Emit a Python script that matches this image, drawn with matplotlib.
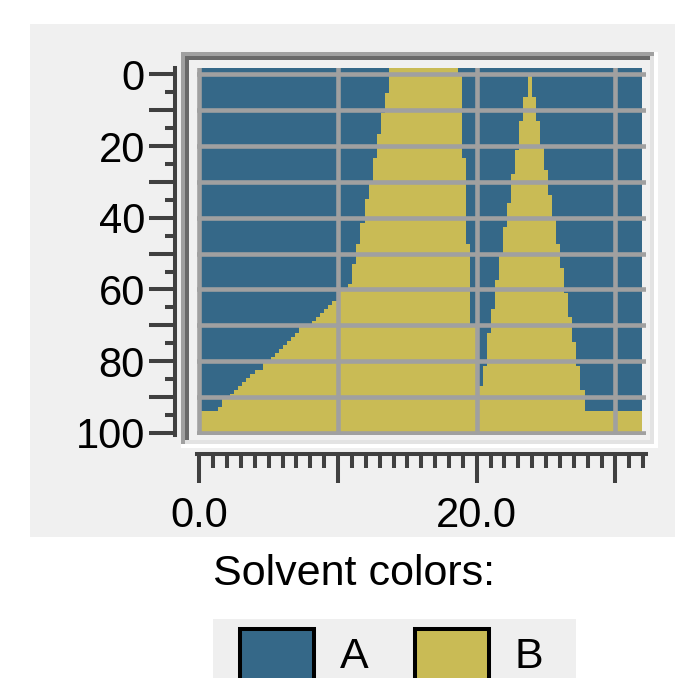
import matplotlib.pyplot as plt
from matplotlib.patches import Rectangle
from matplotlib.ticker import MultipleLocator

# solvent B, first (wide) band: each row starts at y and runs to the next y
b1_y = [-1.76, 0, 5.2, 10.8, 16.6, 23.3, 30.3, 34.8, 41.5, 47.3, 52.9, 58.4, 60.0,
        63.3, 64.4, 65.5, 66.6, 67.7, 68.8, 70.0, 72.2, 73.3, 74.4, 75.5, 76.7,
        77.8, 78.9, 80.0, 82.4, 83.5, 84.7, 85.8, 86.9, 88.0, 89.1, 90.0, 92.8, 94.0, 100]
b1_left = [13.68, 13.68, 13.39, 13.10, 12.81, 12.52, 12.24, 11.95, 11.59, 11.30, 11.01, 10.72, 10.0,
           9.57, 9.28, 8.99, 8.70, 8.41, 8.13, 7.19, 6.90, 6.61, 6.32, 6.03, 5.75,
           5.46, 5.17, 4.59, 4.01, 3.65, 3.37, 3.08, 2.79, 2.50, 2.21, 1.63, 1.35, 0.0, 0.0]
b1_right = [18.63, 18.92, 18.92, 18.92, 18.92, 19.21, 19.21, 19.21, 19.21, 19.50, 19.50, 19.50, 19.50,
            19.50, 19.50, 19.50, 19.50, 19.50, 19.50, 20.0, 20.0, 20.0, 20.0, 20.0, 20.0,
            20.0, 20.0, 20.0, 20.0, 20.0, 20.0, 20.0, 20.0, 20.0, 20.0, 20.0, 20.0, 20.0, 20.0]

# solvent B, second (narrow) band
b2_y = [0, 6.3, 13.0, 20.0, 21.1, 26.7, 27.8, 33.7, 35.9, 40.4, 42.6, 47.3, 50.7,
        54.0, 57.4, 61.0, 65.5, 67.7, 72.2, 74.7, 81.4, 86.9, 88.1, 94.0, 100]
b2_left = [23.70, 23.34, 23.05, 23.05, 22.76, 22.76, 22.48, 22.48, 22.19, 22.19, 21.90, 21.90, 21.61,
           21.61, 21.32, 21.32, 21.03, 21.03, 20.75, 20.75, 20.46, 20.0, 20.0, 20.0, 20.0]
b2_right = [23.99, 24.28, 24.57, 24.86, 24.86, 25.14, 25.14, 25.43, 25.43, 25.72, 25.72, 26.01, 26.01,
            26.30, 26.30, 26.59, 26.59, 26.88, 26.88, 27.16, 27.45, 27.45, 27.81, 31.9, 31.9]

x_end = 31.9
y_end = 100

x_ticks = [0, 10, 20, 30]
x_labels = ['0.0', '', '20.0', '']
y_ticks = [0, 10, 20, 30, 40, 50, 60, 70, 80, 90, 100]
y_labels = ['0', '', '20', '', '40', '', '60', '', '80', '', '100']

solvents = ['A', 'B']
colors = ['#356888', '#c9bb55']

W, H = 675, 678
fig = plt.figure(figsize=(W / 100, H / 100), dpi=100, facecolor='white')
font = 'Liberation Sans'


def box(x0, y0, x1, y1, fc, ec='none', lw=0, z=-5):
    # rectangle given in pixels from the top-left corner
    fig.add_artist(Rectangle((x0 / W, 1 - y1 / H), (x1 - x0) / W, (y1 - y0) / H,
                             transform=fig.transFigure, fc=fc, ec=ec, lw=lw, zorder=z))


# grey panel and sunken frame
box(30, 24, 675, 537, '#f0f0f0', z=-10)
box(181, 52, 658, 448, 'white', z=-9)
box(181, 52, 654, 444, '#a0a0a0', z=-8)
box(185, 56, 654, 444, '#e3e3e3', z=-7)
box(185, 56, 650, 440, '#696969', z=-6)
box(189, 60, 650, 440, '#f0f0f0', z=-5)

ax = fig.add_axes([197 / W, 1 - 435 / H, (646 - 197) / W, (435 - 68) / H])
ax.set_facecolor('#f0f0f0')
ax.fill_betweenx([b1_y[0], y_end], 0, x_end, color=colors[0], lw=0, zorder=1)
ax.fill_betweenx(b1_y, b1_left, b1_right, step='post', color=colors[1], lw=0, zorder=1.2)
ax.fill_betweenx(b2_y, b2_left, b2_right, step='post', color=colors[1], lw=0, zorder=1.2)

ax.set_xlim(-0.166, 32.2)
ax.set_ylim(100.6, -1.76)
ax.set_axisbelow(False)
ax.grid(True, which='major', color='#a0a0a0', lw=3.3)

ax.set_xticks(x_ticks, x_labels)
ax.set_yticks(y_ticks, y_labels)
ax.xaxis.set_minor_locator(MultipleLocator(1))
ax.yaxis.set_minor_locator(MultipleLocator(5))

for s in ['top', 'right']:
    ax.spines[s].set_visible(False)
ax.spines['left'].set_position(('outward', 15.8))
ax.spines['bottom'].set_position(('outward', 13.7))
for s in ['left', 'bottom']:
    ax.spines[s].set_color('#404040')
    ax.spines[s].set_linewidth(2.9)

ax.tick_params(axis='both', which='both', color='#404040', width=2.9, direction='out')
ax.tick_params(axis='y', which='major', length=18.7, pad=3, labelsize=30)
ax.tick_params(axis='y', which='minor', length=7.2)
ax.tick_params(axis='x', which='major', length=20.9, pad=9, labelsize=30)
ax.tick_params(axis='x', which='minor', length=10.1)
for lab in ax.get_xticklabels() + ax.get_yticklabels():
    lab.set_fontfamily(font)

# legend
fig.text(213 / W, 1 - 585 / H, 'Solvent colors:', fontsize=31, family=font, va='baseline', ha='left')
box(213, 619, 576, 690, '#efefef', z=-4)
for i, (name, c) in enumerate(zip(solvents, colors)):
    x0 = 238 + i * 175
    box(x0 + 2, 629, x0 + 76, 700, c, ec='black', lw=2.9, z=-3)
    fig.text((x0 + 102) / W, 1 - 677 / H, name, fontsize=31, family=font, va='bottom', ha='left')

fig.savefig('out.png', dpi=100, facecolor='white')
